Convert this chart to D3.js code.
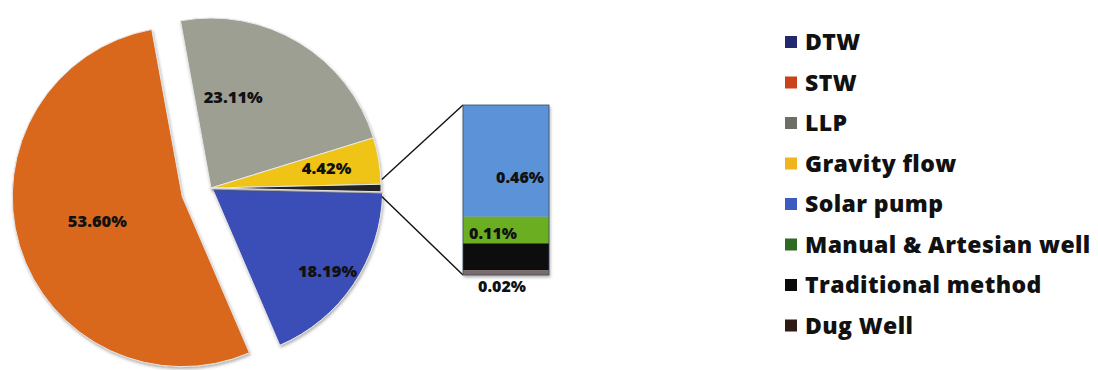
<!DOCTYPE html>
<html>
<head>
<meta charset="utf-8">
<script src="https://cdn.jsdelivr.net/npm/d3@7"></script>
<style>
  html, body { margin: 0; padding: 0; background: #fff; }
  svg { display: block; }
  text { font-family: "Open Sans", "Lato", sans-serif; font-weight: 800; fill: #111; }
</style>
</head>
<body>
<svg id="chart" width="1098" height="370"></svg>
<script>
// Irrigation source shares (%)
const pieCategories = ["DTW", "STW", "LLP", "Gravity flow"];
const pieValues = [18.19, 53.60, 23.11, 4.42];
const pieLabels = ["18.19%", "53.60%", "23.11%", "4.42%"];

// Minor sources, broken out in the stacked bar (top to bottom)
const barCategories = ["Solar pump", "Manual & Artesian well", "Traditional method", "Dug Well"];
const barValues = [0.46, 0.11, 0.11, 0.02];
const barLabels = ["0.46%", "0.11%", null, "0.02%"];

const legendCategories = ["DTW", "STW", "LLP", "Gravity flow", "Solar pump",
  "Manual & Artesian well", "Traditional method", "Dug Well"];

// Styling
const pieColors = ["#3b4db6", "#d9671c", "#9d9f92", "#f0c418", "#202020"];
const barColors = ["#5b92d8", "#6cae24", "#0a0a0a", "#7a6c6a"];
const legendColors = ["#23296e", "#c9421a", "#6e6e66", "#f0b41e",
  "#3d5cc2", "#2f6a22", "#0a0a0a", "#2e1c14"];

const svg = d3.select("#chart");

// Drop shadow for the slices and bar
const defs = svg.append("defs");
const sh = defs.append("filter").attr("id", "shadow")
  .attr("x", "-10%").attr("y", "-10%").attr("width", "120%").attr("height", "120%");
sh.append("feDropShadow").attr("dx", 1).attr("dy", 2).attr("stdDeviation", 1.4)
  .attr("flood-color", "#555").attr("flood-opacity", 0.45);

// ---------- Pie ----------
const cx = 211, cy = 188, radius = 170;
const otherTotal = d3.sum(barValues);
const pieData = pieCategories.map((c, i) => ({ name: c, value: pieValues[i], label: pieLabels[i] }))
  .concat([{ name: "Other", value: otherTotal, label: null }]);
const grand = d3.sum(pieData, d => d.value);

// Rotate so the "Other" slice points straight right (3 o'clock)
const otherMidFrac = (grand - otherTotal / 2) / grand;
const start = Math.PI / 2 - otherMidFrac * 2 * Math.PI;

const pie = d3.pie().sort(null).value(d => d.value)
  .startAngle(start).endAngle(start + 2 * Math.PI);
const arcs = pie(pieData);
const arc = d3.arc().innerRadius(0).outerRadius(radius);

// Explode distance and label placement per slice (DTW, STW, LLP, Gravity, Other)
const explode = [2, 30, 0, 0, 0];
const labelRadius = [0.83, 0.52, 0.55, 0.69];
const labelAngleShift = [1.5, 0.5, -17.5, -0.6];

const pieG = svg.append("g").attr("transform", `translate(${cx},${cy})`);
arcs.forEach((a, i) => {
  const mid = (a.startAngle + a.endAngle) / 2;
  const ox = Math.sin(mid) * explode[i], oy = -Math.cos(mid) * explode[i];
  pieG.append("path")
    .attr("d", arc(a))
    .attr("transform", `translate(${ox},${oy})`)
    .attr("fill", pieColors[i])
    .attr("stroke", "#e8e8e8")
    .attr("stroke-width", 1)
    .attr("filter", "url(#shadow)");
});
arcs.forEach((a, i) => {
  if (!a.data.label) return;
  const mid = (a.startAngle + a.endAngle) / 2;
  const ang = mid + labelAngleShift[i] * Math.PI / 180;
  const r = labelRadius[i] * radius + explode[i];
  pieG.append("text")
    .attr("x", Math.sin(ang) * r)
    .attr("y", -Math.cos(ang) * r)
    .attr("text-anchor", "middle")
    .attr("dy", "0.35em")
    .attr("font-size", 16.5)
    .text(a.data.label);
});

// ---------- Stacked bar of minor sources ----------
const barX = 463, barW = 86, barTop = 105, barBottom = 275;
const y = d3.scaleLinear().domain([0, otherTotal]).range([barTop, barBottom]);
let acc = 0;
const barSegs = barValues.map((v, i) => {
  const s = { i, y0: acc, y1: acc + v };
  acc += v;
  return s;
});

// Connector lines from the "Other" slice to the bar
const other = arcs[arcs.length - 1];
const spread = 1.6 * Math.PI / 180;
const pA = [cx + Math.sin(other.startAngle - spread) * (radius + 1), cy - Math.cos(other.startAngle - spread) * (radius + 1)];
const pB = [cx + Math.sin(other.endAngle + spread) * (radius + 1), cy - Math.cos(other.endAngle + spread) * (radius + 1)];
svg.append("line").attr("x1", pA[0]).attr("y1", pA[1]).attr("x2", barX).attr("y2", y(0))
  .attr("stroke", "#111").attr("stroke-width", 1.4);
svg.append("line").attr("x1", pB[0]).attr("y1", pB[1]).attr("x2", barX).attr("y2", y(otherTotal))
  .attr("stroke", "#111").attr("stroke-width", 1.4);

const barG = svg.append("g").attr("filter", "url(#shadow)");
barSegs.forEach(s => {
  barG.append("rect")
    .attr("x", barX).attr("y", y(s.y0))
    .attr("width", barW).attr("height", y(s.y1) - y(s.y0))
    .attr("fill", barColors[s.i]);
});
barG.append("rect").attr("x", barX).attr("y", y(0)).attr("width", barW)
  .attr("height", y(otherTotal) - y(0)).attr("fill", "none")
  .attr("stroke", "#3a4a6a").attr("stroke-width", 0.8);

// Bar value labels (offsets from the segment centre)
const barLabelOffset = [[14, 17], [-13, 3], [0, 0], [-4, 14]];
barSegs.forEach(s => {
  if (!barLabels[s.i]) return;
  const mx = barX + barW / 2 + barLabelOffset[s.i][0];
  const my = (y(s.y0) + y(s.y1)) / 2 + barLabelOffset[s.i][1];
  svg.append("text").attr("x", mx).attr("y", my)
    .attr("text-anchor", "middle").attr("dy", "0.35em")
    .attr("font-size", 16)
    .text(barLabels[s.i]);
});

// ---------- Legend ----------
const legendX = 785, legendY0 = 42, legendStep = 40.5;
const lg = svg.append("g");
legendCategories.forEach((name, i) => {
  const yy = legendY0 + i * legendStep;
  lg.append("rect").attr("x", legendX).attr("y", yy - 6)
    .attr("width", 12).attr("height", 12).attr("fill", legendColors[i]);
  lg.append("text").attr("x", legendX + 20).attr("y", yy)
    .attr("dy", "0.35em").attr("font-size", 23).attr("letter-spacing", 0.4)
    .text(name);
});
</script>
</body>
</html>
